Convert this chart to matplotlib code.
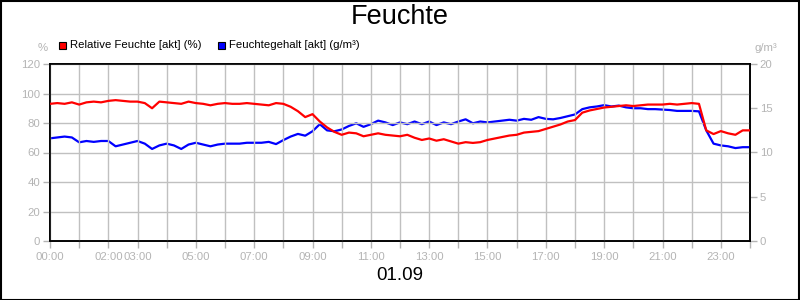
import matplotlib
matplotlib.use("Agg")
import matplotlib.pyplot as plt
import numpy as np

plt.rcParams['font.family'] = ['Liberation Sans', 'DejaVu Sans']

# time in hours (15-minute steps)
hours = [i * 0.25 for i in range(97)]

rel_feuchte = [
    93, 93.5, 93, 94, 92.5, 94, 94.5, 94, 95, 95.5, 95, 94.5,
    94.5, 93.5, 90, 94.5, 94, 93.5, 93, 94.5, 93.5, 93, 92, 93,
    93.5, 93, 93, 93.5, 93, 92.5, 92, 93.5, 93, 91, 88, 84,
    86, 81, 77, 74, 72, 73.5, 73, 71, 72, 73, 72, 71.5,
    71, 72, 70, 68.5, 69.5, 68, 69, 67.5, 66, 67, 66.5, 67,
    68.5, 69.5, 70.5, 71.5, 72, 73.5, 74, 74.5, 76, 77.5, 79, 81,
    82, 87, 88.5, 89.5, 90.5, 91, 91.5, 92, 91.5, 92, 92.5, 92.5,
    92.5, 93, 92.5, 93, 93.5, 93, 75, 72.5, 74.5, 73, 72, 75,
    75,
]

feuchtegehalt = [
    11.6, 11.7, 11.8, 11.7, 11.15, 11.3, 11.2, 11.3, 11.3, 10.7, 10.9, 11.1,
    11.3, 11.0, 10.4, 10.8, 11.0, 10.8, 10.4, 10.9, 11.1, 10.9, 10.7, 10.9,
    11.0, 11.0, 11.0, 11.1, 11.1, 11.1, 11.2, 10.95, 11.4, 11.8, 12.1, 11.9,
    12.4, 13.2, 12.5, 12.4, 12.6, 13.0, 13.3, 12.9, 13.2, 13.6, 13.4, 13.1,
    13.4, 13.2, 13.5, 13.2, 13.5, 13.1, 13.4, 13.2, 13.5, 13.75, 13.3, 13.5,
    13.4, 13.5, 13.6, 13.7, 13.6, 13.8, 13.7, 14.0, 13.8, 13.75, 13.9, 14.1,
    14.3, 14.9, 15.1, 15.2, 15.35, 15.2, 15.3, 15.1, 15.0, 15.0, 14.9, 14.9,
    14.85, 14.8, 14.7, 14.7, 14.7, 14.65, 12.5, 11.0, 10.8, 10.7, 10.5, 10.6,
    10.6,
]

xtick_pos = [0, 2, 3, 5, 7, 9, 11, 13, 15, 17, 19, 21, 23]
xtick_labels = ["00:00", "02:00", "03:00", "05:00", "07:00", "09:00", "11:00",
                "13:00", "15:00", "17:00", "19:00", "21:00", "23:00"]
left_ticks = [0, 20, 40, 60, 80, 100, 120]
right_ticks = [0, 5, 10, 15, 20]

grey = '#b4b4b4'
gridc = '#c0c0c0'

fig = plt.figure(figsize=(8, 3), dpi=100)
ax = fig.add_axes([50/800, 1-241/300, 700/800, 177/300])
ax2 = ax.twinx()

ax.plot(hours, rel_feuchte, color='#ff0000', lw=1.6, zorder=3)
ax2.plot(hours, feuchtegehalt, color='#0000ff', lw=1.6, zorder=3)

ax.set_xlim(0, 24)
ax.set_ylim(0, 120)
ax2.set_ylim(0, 20)
ax.set_yticks(left_ticks)
ax2.set_yticks(right_ticks)
ax.set_xticks(range(25), minor=False)
ax.set_xticklabels([""] * 25)
for p, l in zip(xtick_pos, xtick_labels):
    ax.text(p, -0.06, l, transform=ax.get_xaxis_transform(), ha='center', va='top',
            fontsize=8.2, color=grey)

ax.grid(True, color=gridc, lw=1)
ax.set_axisbelow(True)
for a in (ax, ax2):
    for s in a.spines.values():
        s.set_color('black')
        s.set_linewidth(1.2)
ax.tick_params(axis='both', colors=grey, labelsize=8.2, length=5, width=1, pad=2)
ax.tick_params(axis='x', length=5)
ax2.tick_params(axis='y', colors=grey, labelsize=8.2, length=5, width=1, pad=2)
ax.set_zorder(ax2.get_zorder() + 1)
ax.patch.set_visible(False)

fig.text(400/800, 1-17/300, "Feuchte", ha='center', va='center', fontsize=19.5, color='black')
fig.text(400/800, 1-276/300, "01.09", ha='center', va='center', fontsize=13.5, color='black')
fig.text(43/800, 1-48/300, "%", ha='center', va='center', fontsize=8.2, color=grey)
fig.text(766/800, 1-48/300, "g/m³", ha='center', va='center', fontsize=8.2, color=grey)

# legend
fig.patches.append(plt.Rectangle((59/800, 1-49/300), 7/800, 7/300, transform=fig.transFigure,
                                 facecolor='#ff0000', edgecolor='black', lw=0.8))
fig.text(70/800, 1-45/300, "Relative Feuchte [akt] (%)", ha='left', va='center', fontsize=8.2, color='black')
fig.patches.append(plt.Rectangle((218/800, 1-49/300), 7/800, 7/300, transform=fig.transFigure,
                                 facecolor='#0000ff', edgecolor='black', lw=0.8))
fig.text(229/800, 1-45/300, "Feuchtegehalt [akt] (g/m³)", ha='left', va='center', fontsize=8.2, color='black')

# frame
fig.patches.append(plt.Rectangle((0.5/800, 0.5/300), 798.5/800, 298.5/300, transform=fig.transFigure,
                                 facecolor='none', edgecolor='black', lw=1.5))

fig.savefig("out.png", dpi=100)
